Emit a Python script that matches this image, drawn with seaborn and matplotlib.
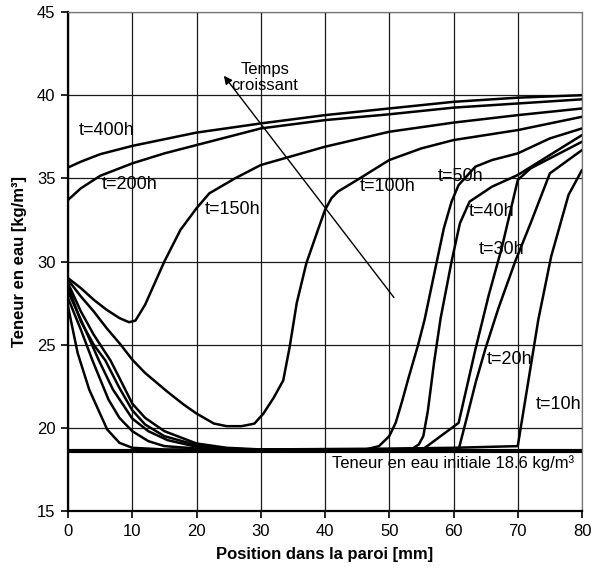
import numpy as np
import pandas as pd
import seaborn as sns
import matplotlib.pyplot as plt

# profils de teneur en eau
t10_x = [0, 1.5, 3.3, 6.1, 8, 10, 15, 30, 50, 60, 70, 73.2, 75.2, 77.9, 80]
t10_y = [27.3, 24.5, 22.3, 19.9, 19.1, 18.8, 18.7, 18.7, 18.75, 18.8, 18.9, 26.5, 30.3, 34.0, 35.5]

t20_x = [0, 2, 3.8, 6.3, 8, 10, 12.5, 15, 20, 30, 45, 60.8, 62, 63.5, 65, 67, 69.6, 72, 75, 80]
t20_y = [27.8, 25.9, 24.06, 21.7, 20.6, 19.8, 19.2, 18.9, 18.76, 18.68, 18.65, 18.7, 20.5, 22.8, 24.8, 27.2, 30.0, 32.3, 35.3, 36.7]

t30_x = [0, 2, 4.8, 7, 10, 12.5, 15.5, 20, 25, 30, 45, 55.2, 60.8, 63.4, 65.5, 67.5, 70, 72, 75, 80]
t30_y = [28.2, 26.5, 24.06, 22.3, 20.56, 19.8, 19.26, 18.86, 18.72, 18.66, 18.62, 18.7, 20.3, 24.7, 28.0, 30.8, 34.9, 35.6, 36.2, 37.2]

t40_x = [0, 2, 4, 5.8, 8, 10, 12, 15, 20, 25, 30, 40, 53.6, 54.6, 55.3, 56, 57, 58, 59.7, 61, 62.5, 66, 70, 75, 80]
t40_y = [28.5, 26.4, 25.0, 24.06, 22.4, 21.06, 20.2, 19.5, 18.96, 18.75, 18.68, 18.63, 18.75, 19.0, 19.5, 21.0, 24.0, 26.6, 30.0, 32.3, 33.6, 34.5, 35.2, 36.4, 37.6]

t50_x = [0, 2, 4, 6.6, 8, 10, 12, 15, 20, 24.7, 30, 40, 45.8, 48.4, 50, 51, 52, 53, 54.5, 55.5, 57.4, 58.5, 59.7, 60.8, 63.4, 66, 70, 75, 80]
t50_y = [28.7, 27.0, 25.6, 24.06, 23.0, 21.46, 20.6, 19.8, 19.06, 18.8, 18.7, 18.64, 18.65, 18.9, 19.5, 20.3, 21.6, 23.0, 25.0, 26.5, 30.0, 32.0, 33.6, 34.6, 35.7, 36.1, 36.5, 37.4, 38.0]

t100_x = [0, 2, 4, 6, 8.2, 10, 12, 15.5, 18, 20, 22.7, 24.7, 27, 29, 30.4, 32, 33.5, 34.5, 35.6, 37.1, 38.9, 40, 41, 42, 45, 50, 55, 60, 70, 80]
t100_y = [28.9, 27.9, 27.0, 26.0, 25.0, 24.1, 23.3, 22.16, 21.4, 20.86, 20.26, 20.1, 20.1, 20.25, 20.85, 21.8, 22.85, 24.86, 27.5, 29.9, 31.9, 33.1, 33.8, 34.2, 34.9, 36.1, 36.8, 37.3, 37.9, 38.7]

t150_x = [0, 2, 4, 6, 8, 9.5, 10.5, 12, 13.5, 15, 17.5, 20, 22, 26, 30, 40, 50, 60, 70, 80]
t150_y = [29.0, 28.4, 27.7, 27.1, 26.6, 26.35, 26.45, 27.4, 28.7, 30.0, 31.9, 33.2, 34.1, 35.0, 35.8, 36.9, 37.8, 38.35, 38.8, 39.2]

t200_x = [0, 2, 5, 10, 15, 20, 30, 40, 50, 60, 70, 80]
t200_y = [33.7, 34.4, 35.15, 35.9, 36.5, 37.0, 38.0, 38.5, 38.85, 39.25, 39.5, 39.75]

t400_x = [0, 2, 5, 10, 15, 20, 30, 40, 50, 60, 70, 80]
t400_y = [35.65, 36.0, 36.45, 36.95, 37.35, 37.75, 38.3, 38.8, 39.2, 39.6, 39.85, 40.0]

labels = ['t=10h', 't=20h', 't=30h', 't=40h', 't=50h', 't=100h', 't=150h', 't=200h', 't=400h']
curves_x = [t10_x, t20_x, t30_x, t40_x, t50_x, t100_x, t150_x, t200_x, t400_x]
curves_y = [t10_y, t20_y, t30_y, t40_y, t50_y, t100_y, t150_y, t200_y, t400_y]

teneur_initiale = 18.6

rows = []
for lab, xs, ys in zip(labels, curves_x, curves_y):
    for i, (a, b) in enumerate(zip(xs, ys)):
        rows.append({'temps': lab, 'ordre': i, 'x': a, 'y': b})
df = pd.DataFrame(rows)

sns.set_theme(style="ticks")
plt.rcParams['font.family'] = ['Liberation Sans', 'DejaVu Sans']
plt.rcParams['text.color'] = 'black'
plt.rcParams['axes.labelcolor'] = 'black'
plt.rcParams['xtick.color'] = 'black'
plt.rcParams['ytick.color'] = 'black'

fig = plt.figure(figsize=(6.05, 5.78), dpi=100)
ax = fig.add_axes([68/605, 67/578, 514/605, 499/578])

sns.lineplot(data=df, x='x', y='y', units='temps', estimator=None, sort=False,
             color='black', lw=1.8, ax=ax)
sns.lineplot(x=[0, 80], y=[teneur_initiale, teneur_initiale], color='black', lw=3, ax=ax)

ax.set_xlim(0, 80)
ax.set_ylim(15, 45)
ax.set_xticks(np.arange(0, 81, 10))
ax.set_yticks(np.arange(15, 46, 5))
ax.grid(True, color='#1a1a1a', lw=0.9)
ax.set_axisbelow(True)
ax.tick_params(direction='out', length=5, width=1.2, color='black', labelsize=12, pad=4)

for s in ['left', 'bottom']:
    ax.spines[s].set_linewidth(1.6)
    ax.spines[s].set_color('black')
for s in ['top', 'right']:
    ax.spines[s].set_linewidth(0.9)
    ax.spines[s].set_color('#777777')

ax.set_xlabel('Position dans la paroi [mm]', fontsize=12, fontweight='bold', labelpad=6)
ax.set_ylabel('Teneur en eau [kg/m³]', fontsize=12, fontweight='bold', labelpad=7)

# étiquettes des courbes
lab_pos = {'t=400h': (1.6, 37.85), 't=200h': (5.2, 34.6), 't=150h': (21.3, 33.1),
           't=100h': (45.4, 34.5), 't=50h': (57.6, 35.1), 't=40h': (62.4, 33.0),
           't=30h': (64.0, 30.7), 't=20h': (65.1, 24.1), 't=10h': (72.8, 21.4)}
for lab in labels:
    px, py = lab_pos[lab]
    ax.text(px, py, lab, fontsize=13, ha='left', va='center')

ax.text(41.1, 17.9, 'Teneur en eau initiale %.1f kg/m³' % teneur_initiale,
        fontsize=12, ha='left', va='center')

ax.annotate('', xy=(24.0, 41.3), xytext=(51.0, 27.7),
            arrowprops=dict(arrowstyle='-|>', color='black', lw=1, mutation_scale=12))
ax.text(30.6, 41.05, 'Temps\ncroissant', fontsize=12, ha='center', va='center', linespacing=1.1)

fig.savefig('out.png', dpi=100)
